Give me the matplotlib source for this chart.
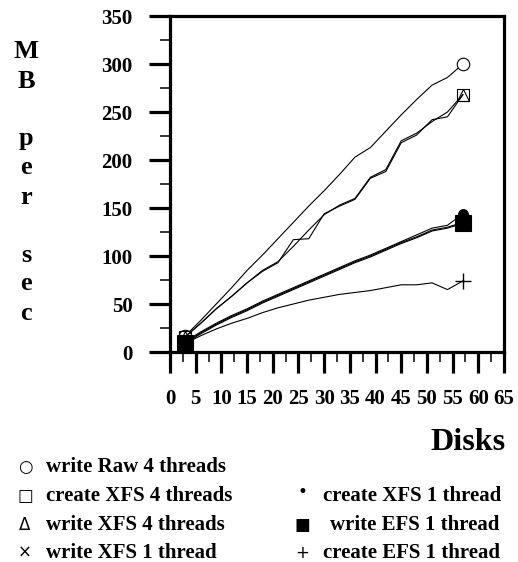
import matplotlib
matplotlib.use("Agg")
import matplotlib.pyplot as plt
from matplotlib.ticker import MultipleLocator

plt.rcParams['font.family'] = ['Liberation Serif', 'DejaVu Serif']
plt.rcParams['font.weight'] = 'bold'

disks = [3, 6, 9, 12, 15, 18, 21, 24, 27, 30, 33, 36, 39, 42, 45, 48, 51, 54, 57]
write_raw_4 = [17, 33, 50, 67, 85, 101, 118, 135, 152, 168, 185, 203, 213, 230, 247, 263, 278, 286, 300]
create_xfs_4 = [16, 30, 45, 58, 72, 84, 93, 117, 118, 144, 152, 159, 181, 188, 218, 226, 242, 245, 268]
write_xfs_4 = [16, 30, 45, 58, 72, 85, 94, 110, 127, 143, 153, 160, 182, 190, 220, 228, 240, 250, 268]
write_xfs_1 = [10, 20, 29, 37, 44, 52, 59, 66, 73, 80, 87, 94, 100, 107, 114, 120, 127, 130, 135]
create_xfs_1 = [11, 21, 30, 38, 45, 53, 60, 67, 74, 81, 88, 95, 101, 108, 115, 122, 129, 132, 144]
write_efs_1 = [9, 19, 28, 36, 43, 51, 58, 65, 72, 79, 86, 93, 99, 106, 113, 119, 126, 129, 134]
create_efs_1 = [9, 17, 24, 30, 35, 41, 46, 50, 54, 57, 60, 62, 64, 67, 70, 70, 72, 65, 74]

x_ticks = list(range(0, 70, 5))
y_ticks = list(range(0, 400, 50))

W, H = 518, 562
fig = plt.figure(figsize=(W / 100, H / 100), dpi=100)
ax = fig.add_axes([170 / W, 1 - 352 / H, (504 - 170) / W, (352 - 16) / H])

ends = [0, len(disks) - 1]
series = [
    (write_raw_4, dict(marker='o', ms=9, mfc='white', mew=0.8)),
    (create_xfs_4, dict(marker='s', ms=9, mfc='none', mew=0.8)),
    (write_xfs_4, dict(marker='^', ms=8, mfc='none', mew=0.8)),
    (write_xfs_1, dict(marker='x', ms=8, mew=0.8)),
    (write_efs_1, dict(marker='s', ms=11, mfc='black', mew=0.8)),
    (create_xfs_1, dict(marker='o', ms=7, mfc='black', mew=0.8)),
    (create_efs_1, dict(marker='+', ms=12, mew=1.0)),
]
for vals, st in series:
    ax.plot(disks, vals, color='black', lw=0.8, markevery=ends, **st)

ax.set_xlim(0, 65)
ax.set_ylim(0, 350)
ax.set_xticks(x_ticks)
ax.set_yticks(y_ticks)
ax.xaxis.set_minor_locator(MultipleLocator(2.5))
ax.yaxis.set_minor_locator(MultipleLocator(25))
for s in ax.spines.values():
    s.set_linewidth(2.3)
ax.tick_params(which='major', direction='out', length=15, width=2.3, labelsize=15)
ax.tick_params(which='minor', direction='out', length=7, width=1.1)
ax.tick_params(axis='x', which='major', pad=12)
ax.tick_params(axis='y', which='major', pad=12)
for lab in ax.get_xticklabels() + ax.get_yticklabels():
    lab.set_fontweight('bold')

def ftext(px, py, s, **kw):
    fig.text(px / W, 1 - py / H, s, **kw)

ftext(468, 442, "Disks", fontsize=23, fontweight='bold', ha='center', va='center')

ylabel_letters = ['M', 'B', '', 'p', 'e', 'r', '', 's', 'e', 'c']
for i, ch in enumerate(ylabel_letters):
    if ch:
        ftext(26, 52 + i * 29.0, ch, fontsize=19, fontweight='bold', ha='center', va='center')

legend_left = [("\u25cb", "write Raw 4 threads"),
               ("\u25a1", "create XFS 4 threads"),
               ("\u0394", "write XFS 4 threads"),
               ("\u00d7", "write XFS 1 thread")]
legend_right = [("\u2022", "create XFS 1 thread"),
                ("\u25a0", "write EFS 1 thread"),
                ("+", "create EFS 1 thread")]
rows = [467, 496, 525, 553]
for (sym, lab), py in zip(legend_left, rows):
    ftext(25, py, sym, fontsize=12, fontweight='normal', ha='center', va='center',
          family=['DejaVu Sans'])
    ftext(46, py, lab, fontsize=15, fontweight='bold', ha='left', va='center')
right_text_x = [323, 330, 323]
for (sym, lab), py, tx in zip(legend_right, rows[1:], right_text_x):
    ftext(302, py - (4 if sym == "\u2022" else 0), sym, fontsize=12, fontweight='normal',
          ha='center', va='center', family=['DejaVu Sans'])
    ftext(tx, py, lab, fontsize=15, fontweight='bold', ha='left', va='center')

fig.savefig("out.png", dpi=100)
